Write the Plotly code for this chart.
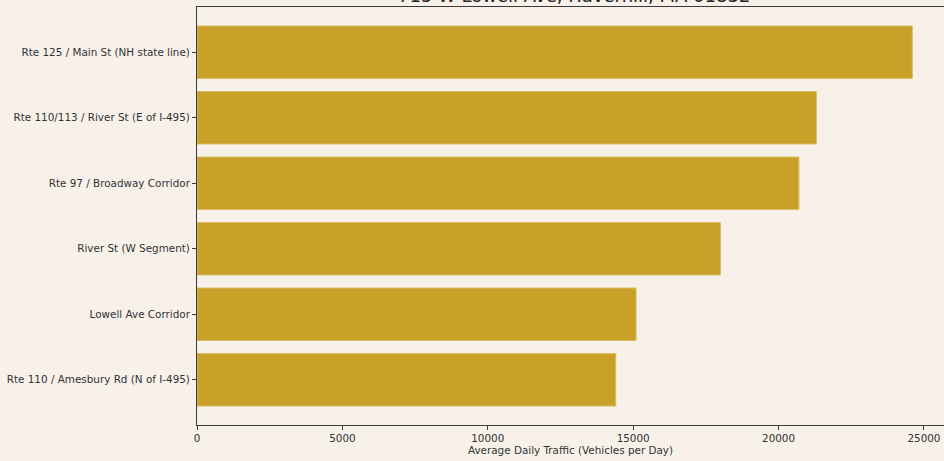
import plotly.graph_objects as go

categories = [
    "Rte 125 / Main St (NH state line)",
    "Rte 110/113 / River St (E of I-495)",
    "Rte 97 / Broadway Corridor",
    "River St (W Segment)",
    "Lowell Ave Corridor",
    "Rte 110 / Amesbury Rd (N of I-495)",
]
traffic = [24600, 21300, 20700, 18000, 15100, 14400]
x_ticks = [0, 5000, 10000, 15000, 20000, 25000]
title_text = "715 W Lowell Ave, Haverhill, MA 01832"
x_title = "Average Daily Traffic (Vehicles per Day)"

BG = "#f8f1ea"
BAR = "#c9a129"
AX = "#3a3a3a"
FONT = "DejaVu Sans"
FS = 10.4

fig = go.Figure(
    go.Bar(
        x=traffic,
        y=categories,
        orientation="h",
        width=0.8,
        marker=dict(color=BAR, line=dict(color="#d9bd5e", width=1)),
    )
)

fig.update_layout(
    width=944,
    height=461,
    paper_bgcolor=BG,
    plot_bgcolor=BG,
    margin=dict(l=197, r=0, t=7, b=36),
    showlegend=False,
    font=dict(family=FONT, size=FS, color="#333333"),
    bargap=0.2,
)

fig.update_xaxes(
    range=[0, 25690],
    tickvals=x_ticks,
    ticktext=[str(v) for v in x_ticks],
    ticks="outside",
    ticklen=4,
    tickcolor=AX,
    showline=True,
    linecolor=AX,
    linewidth=1,
    mirror=True,
    showgrid=False,
    zeroline=False,
    tickfont=dict(family=FONT, size=FS, color="#333333"),
    title=dict(text=x_title, font=dict(family=FONT, size=FS, color="#333333"), standoff=2),
)

fig.update_yaxes(
    categoryorder="array",
    categoryarray=categories[::-1],
    range=[-0.69, 5.69],
    ticks="outside",
    ticklen=4,
    tickcolor=AX,
    showline=True,
    linecolor=AX,
    linewidth=1,
    showgrid=False,
    zeroline=False,
    tickfont=dict(family=FONT, size=FS, color="#333333"),
)

fig.add_annotation(
    text=title_text,
    x=0.5,
    y=1,
    xref="paper",
    yref="paper",
    xanchor="center",
    yanchor="middle",
    yshift=12,
    xshift=3,
    showarrow=False,
    font=dict(family=FONT, size=18, color="#222222"),
)

fig.write_html(
    "out.html",
    config={"displayModeBar": False},
    post_script="document.body.style.margin='0';document.body.style.background='%s';" % BG,
)
